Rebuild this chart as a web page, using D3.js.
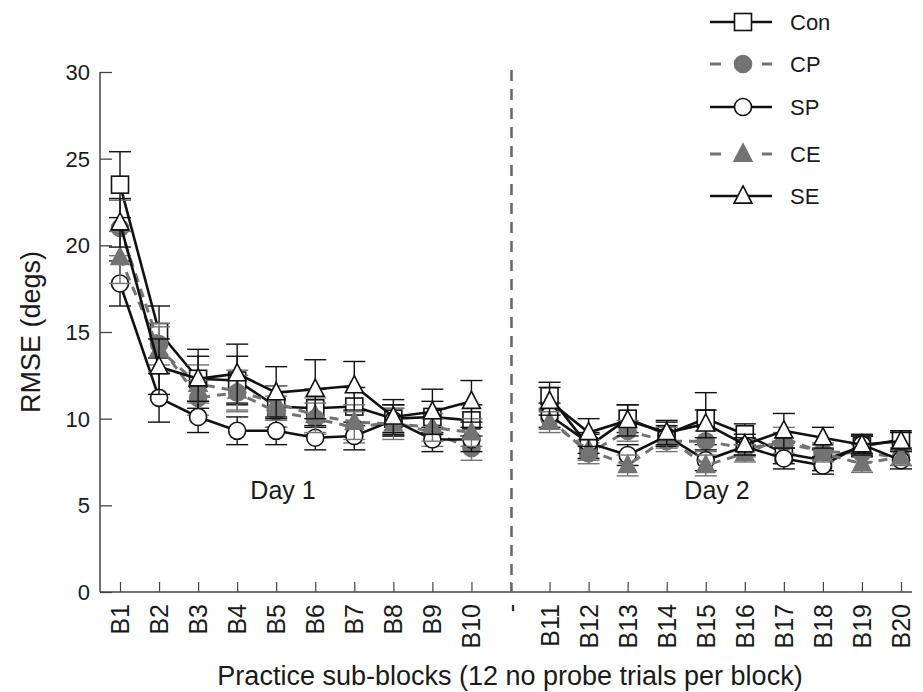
<!DOCTYPE html>
<html><head><meta charset="utf-8">
<script src="https://cdn.jsdelivr.net/npm/d3@7"></script>
<style>body{margin:0;background:#fff}svg{display:block;font-family:"Liberation Sans",Arial,sans-serif}</style>
</head><body><svg id="c" width="923" height="692"></svg>
<script>
const categories = ["B1","B2","B3","B4","B5","B6","B7","B8","B9","B10","-","B11","B12","B13","B14","B15","B16","B17","B18","B19","B20"];
const blocks = ["B1","B2","B3","B4","B5","B6","B7","B8","B9","B10","B11","B12","B13","B14","B15","B16","B17","B18","B19","B20"];
const yTicks = [0,5,10,15,20,25,30];
const seriesNames = ["Con","CP","SP","CE","SE"];
const conVals = [23.5,15.0,12.3,12.2,10.7,10.6,10.7,10.0,10.1,9.9, 11.3,8.4,10.0,9.1,10.0,9.1,8.0,7.6,8.4,8.8];
const cpVals  = [21.0,14.3,11.2,11.5,10.4,10.0,9.5,9.8,9.2,8.3, 10.0,8.0,9.3,8.7,8.7,8.3,8.6,8.1,8.0,7.8];
const spVals  = [17.8,11.2,10.1,9.3,9.3,8.9,9.0,9.9,8.8,8.8, 10.2,8.6,7.9,9.0,7.6,8.4,7.7,7.3,8.5,7.6];
const ceVals  = [19.3,14.0,12.0,11.6,10.9,10.2,9.8,9.7,9.5,9.2, 9.8,8.2,7.3,8.9,7.3,8.0,8.9,8.0,7.4,7.8];
const seVals  = [21.3,13.0,12.3,12.6,11.5,11.7,11.9,10.1,10.4,11.0, 11.0,9.2,9.9,9.2,9.7,8.5,9.3,8.9,8.5,8.7];
const conErr = [1.9,1.5,1.3,1.4,1.2,1.1,1.1,0.8,0.9,0.9, 0.8,0.7,0.8,0.7,1.5,0.6,0.6,0.6,0.6,0.5];
const cpErr  = [1.6,1.2,1.0,1.0,0.9,0.9,0.9,0.8,0.8,0.7, 0.6,0.6,0.6,0.6,0.6,0.5,0.6,0.5,0.5,0.5];
const spErr  = [1.3,1.4,0.9,0.8,0.8,0.7,0.8,0.9,0.7,0.7, 0.7,0.6,0.6,0.6,0.6,0.5,0.6,0.5,0.5,0.5];
const ceErr  = [1.5,1.3,1.1,1.2,1.0,1.0,1.0,0.9,0.8,0.8, 0.6,0.6,0.6,0.6,0.6,0.5,0.6,0.5,0.5,0.5];
const seErr  = [1.4,1.6,1.7,1.7,1.5,1.7,1.4,1.0,1.3,1.2, 0.8,0.8,0.9,0.7,0.8,0.6,1.0,0.6,0.6,0.5];

const styles = {
  Con:{color:"#111", dash:null, shape:"square", fill:"#fff"},
  CP:{color:"#737373", dash:"9,7", shape:"circle", fill:"#737373"},
  SP:{color:"#111", dash:null, shape:"circle", fill:"#fff"},
  CE:{color:"#737373", dash:"9,7", shape:"triangle", fill:"#737373"},
  SE:{color:"#111", dash:null, shape:"triangle", fill:"#fff"}
};
const data = {Con:[conVals,conErr],CP:[cpVals,cpErr],SP:[spVals,spErr],CE:[ceVals,ceErr],SE:[seVals,seErr]};

const svg = d3.select("#c");
const x = d3.scalePoint().domain(categories).range([120,901]);
const y = d3.scaleLinear().domain([0,30]).range([592,72]);
const axisColor = "#444";
const textColor = "#1a1a1a";

const ya = svg.append("g").attr("transform","translate(100,0)")
  .call(d3.axisRight(y).tickValues(yTicks).tickSize(12).tickFormat(""));
ya.select(".domain").attr("d","M0,"+y(30)+"V"+y(0)).attr("stroke",axisColor).attr("stroke-width",1.5);
ya.selectAll(".tick line").attr("stroke",axisColor).attr("stroke-width",1.3);
svg.append("g").selectAll("text").data(yTicks).join("text")
  .attr("x",90).attr("y",d=>y(d)+8).attr("text-anchor","end")
  .attr("font-size",22).attr("fill",textColor).text(d=>d);

const xa = svg.append("g").attr("transform","translate(0,592)")
  .call(d3.axisTop(x).tickSize(10).tickFormat(""));
xa.select(".domain").attr("d","M100,0H912").attr("stroke",axisColor).attr("stroke-width",1.5);
xa.selectAll(".tick line").attr("stroke",axisColor).attr("stroke-width",1.2);
svg.append("g").selectAll("text").data(categories).join("text")
  .attr("transform",d=>`translate(${x(d)+9},604) rotate(-90)`)
  .attr("text-anchor","end").attr("font-size",25).attr("fill",textColor).text(d=>d);

svg.append("text").attr("x",510).attr("y",685).attr("text-anchor","middle")
  .attr("font-size",27).attr("fill",textColor).text("Practice sub-blocks (12 no probe trials per block)");
svg.append("text").attr("transform","translate(40,332) rotate(-90)").attr("text-anchor","middle")
  .attr("font-size",27).attr("fill",textColor).text("RMSE (degs)");

svg.append("line").attr("x1",x("-")+1).attr("x2",x("-")+1).attr("y1",y(30)-2).attr("y2",y(0))
  .attr("stroke","#666").attr("stroke-width",2.5).attr("stroke-dasharray","11,8");

svg.append("text").attr("x",283).attr("y",499).attr("text-anchor","middle")
  .attr("font-size",25).attr("fill",textColor).text("Day 1");
svg.append("text").attr("x",717).attr("y",499).attr("text-anchor","middle")
  .attr("font-size",25).attr("fill",textColor).text("Day 2");

function marker(g, shape, cx, cy, st, s){
  if(shape==="square"){
    g.append("rect").attr("x",cx-s/2).attr("y",cy-s/2).attr("width",s).attr("height",s)
      .attr("fill",st.fill).attr("stroke",st.color).attr("stroke-width",1.6);
  } else if(shape==="circle"){
    g.append("circle").attr("cx",cx).attr("cy",cy).attr("r",s/2)
      .attr("fill",st.fill).attr("stroke",st.color).attr("stroke-width",1.6);
  } else {
    const h=s*0.95, w=s*1.05;
    g.append("path").attr("d",`M${cx},${cy-h/2-2}L${cx+w/2},${cy+h/2-1}L${cx-w/2},${cy+h/2-1}Z`)
      .attr("fill",st.fill).attr("stroke",st.color).attr("stroke-width",1.6);
  }
}

const line = d3.line().x(d=>x(d.b)).y(d=>y(d.v));
seriesNames.forEach(name=>{
  const st = styles[name];
  const [vals, errs] = data[name];
  const pts = blocks.map((b,i)=>({b, v:vals[i], e:errs[i]}));
  const g = svg.append("g");
  pts.forEach(p=>{
    const cx=x(p.b);
    g.append("line").attr("x1",cx).attr("x2",cx).attr("y1",y(p.v+p.e)).attr("y2",y(p.v-p.e))
      .attr("stroke",st.color).attr("stroke-width",1.4);
    [p.v+p.e,p.v-p.e].forEach(v=>g.append("line").attr("x1",cx-11).attr("x2",cx+11)
      .attr("y1",y(v)).attr("y2",y(v)).attr("stroke",st.color).attr("stroke-width",1.4));
  });
  [pts.slice(0,10), pts.slice(10)].forEach(seg=>{
    g.append("path").attr("d",line(seg)).attr("fill","none").attr("stroke",st.color)
      .attr("stroke-width",st.dash?3:2.6).attr("stroke-dasharray",st.dash);
  });
  pts.forEach(p=>marker(g, st.shape, x(p.b), y(p.v), st, 17));
});

const legY = [22,64,107,154,196];
seriesNames.forEach((name,i)=>{
  const st=styles[name];
  const g=svg.append("g");
  g.append("line").attr("x1",710).attr("x2",772).attr("y1",legY[i]).attr("y2",legY[i])
    .attr("stroke",st.color).attr("stroke-width",st.dash?3:2.6).attr("stroke-dasharray",st.dash?"11,41":null);
  marker(g, st.shape, 743, legY[i], st, 17);
  g.append("text").attr("x",790).attr("y",legY[i]+8).attr("font-size",22).attr("fill",textColor).text(name);
});
</script></body></html>
